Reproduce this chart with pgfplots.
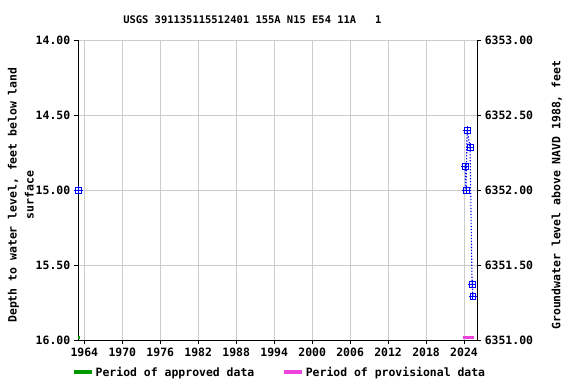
\documentclass[border=0pt]{standalone}
\usepackage{pgfplots}
\pgfplotsset{compat=1.18}
\usepackage{fontspec}
\setmonofont{DejaVu Sans Mono}
\pgfdeclareplotmark{sqplus}{%
  \pgfpathrectangle{\pgfqpoint{-\pgfplotmarksize}{-\pgfplotmarksize}}{\pgfqpoint{2\pgfplotmarksize}{2\pgfplotmarksize}}%
  \pgfpathmoveto{\pgfqpoint{-1.4\pgfplotmarksize}{0pt}}\pgfpathlineto{\pgfqpoint{1.4\pgfplotmarksize}{0pt}}%
  \pgfpathmoveto{\pgfqpoint{0pt}{-1.4\pgfplotmarksize}}\pgfpathlineto{\pgfqpoint{0pt}{1.4\pgfplotmarksize}}%
  \pgfusepathqstroke}
\begin{document}
\begin{tikzpicture}[font=\ttfamily\bfseries\fontsize{11.5}{13}\selectfont]
\path[use as bounding box] (0,0) rectangle (576bp,384bp);
\begin{axis}[
  at={(78bp,44bp)}, anchor=south west,
  scale only axis, width=399bp, height=300bp,
  xmin=1963, xmax=2026.05,
  ymin=14, ymax=16, y dir=reverse,
  xtick={1964,1970,...,2024},
  ytick={14,14.5,15,15.5,16},
  yticklabel style={/pgf/number format/.cd,fixed,fixed zerofill,precision=2},
  xticklabel style={/pgf/number format/.cd,1000 sep={}},
  /pgf/number format/assume math mode=true,
  tick align=outside, tick style={black},
  axis y line*=left, axis x line*=bottom,
  grid=major, grid style={gray!40, line width=0.8pt},
  axis line style={black, line width=0.8pt},
  ylabel={Depth to water level, feet below land\\[4bp]surface},
  ylabel style={align=center, at={(axis description cs:-0.143,0.483)}, anchor=center},
  title={\fontsize{10.5}{12}\selectfont USGS 391135115512401 155A N15 E54 11A\ \ \ 1},
  title style={at={(axis description cs:0.437,1.047)}, anchor=center},
  legend style={at={(axis description cs:-0.015,-0.107)}, anchor=west, legend columns=2, draw=none, fill=none,
    inner xsep=0pt, inner ysep=0pt,
    /tikz/every even column/.append style={column sep=26bp}},
  legend image code/.code={\draw[line width=3.5pt] (0bp,0bp) -- (18bp,0bp);},
]
\addplot[blue, only marks, mark=sqplus, mark size=3pt, forget plot] coordinates {(1963.1,15.0)};
\addplot[blue, line width=1.1pt, dash pattern=on 1.3pt off 1.7pt, mark=sqplus, mark size=3pt, mark options={solid, line width=0.8pt}, forget plot] coordinates {
(2024.16,14.845) (2024.30,15.0) (2024.50,14.60) (2024.95,14.715) (2025.27,15.627) (2025.40,15.707)};
\addplot[green!60!black, line width=3.5pt] coordinates {(1963.0,15.985) (1963.25,15.985)};
\addlegendentry{Period of approved data}
\addplot[color={rgb,255:red,238;green,68;blue,221}, line width=3.5pt] coordinates {(2023.85,15.985) (2025.65,15.985)};
\addlegendentry{Period of provisional data}
\end{axis}
\begin{axis}[
  at={(78bp,44bp)}, anchor=south west,
  scale only axis, width=399bp, height=300bp,
  xmin=1963, xmax=2026.05, ymin=6351, ymax=6353,
  axis y line*=right, hide x axis,
  ytick={6351,6351.5,6352,6352.5,6353},
  yticklabel style={/pgf/number format/.cd,fixed,fixed zerofill,precision=2,1000 sep={}},
  /pgf/number format/assume math mode=true,
  tick align=outside, tick style={black},
  axis line style={black, line width=0.8pt},
  ylabel={Groundwater level above NAVD 1988, feet},
  ylabel style={at={(axis description cs:1.2,0.483)}, anchor=center},
]
\addplot[draw=none, forget plot] coordinates {(1990,6352)};
\end{axis}
\end{tikzpicture}
\end{document}
